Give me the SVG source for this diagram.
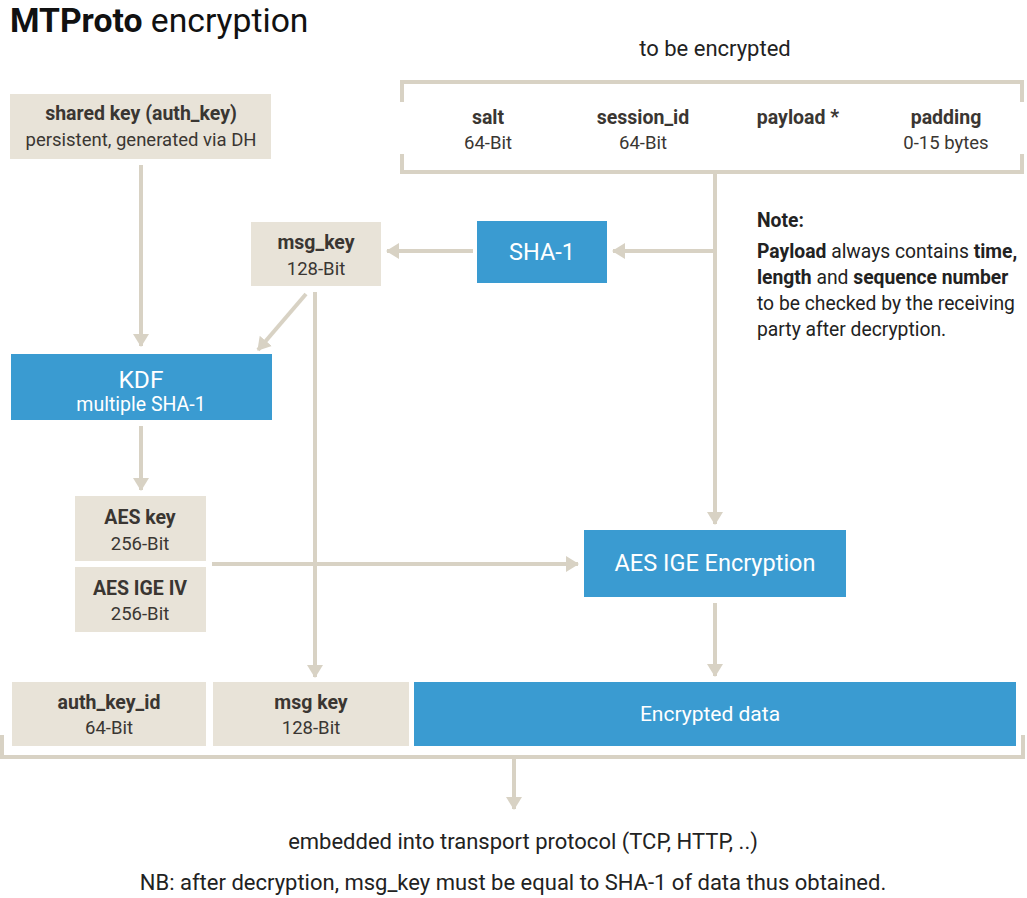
<svg xmlns="http://www.w3.org/2000/svg" width="1027" height="898" viewBox="0 0 1027 898">
<style>
  text { font-family: Roboto, "Liberation Sans", sans-serif; }
  .beige { fill: #e8e3d8; }
  .blue { fill: #3a9bd1; }
  .b { font-weight: bold; fill: #3a3632; font-size: 19.5px; }
  .r { fill: #3a3632; font-size: 18.5px; }
  .w { fill: #ffffff; font-size: 23.5px; }
  .conn { stroke: #d8d2c4; stroke-width: 4; fill: none; }
  .brk { stroke: #d8d2c4; stroke-width: 4; fill: none; }
  .t { fill: #222; font-size: 22px; }
  .n { fill: #222; font-size: 19.3px; }
</style>
<defs>
  <marker id="ah" markerUnits="userSpaceOnUse" markerWidth="18" markerHeight="18" refX="12" refY="9" orient="auto">
    <path d="M0,1 L13,9 L0,17 Z" fill="#d8d2c4"/>
  </marker>
</defs>
<rect width="1027" height="898" fill="#ffffff"/>

<text x="10" y="32" style="font-size:33.7px;fill:#111"><tspan font-weight="bold">MTProto</tspan> encryption</text>

<g id="to-be-encrypted">
  <text x="715" y="56" text-anchor="middle" class="t">to be encrypted</text>
  <path class="brk" d="M402,102 V82 H1022 V102 M402,154 V172 H1022 V154"/>
  <text x="488" y="124" text-anchor="middle" class="b">salt</text>
  <text x="488" y="149" text-anchor="middle" class="r">64-Bit</text>
  <text x="643" y="124" text-anchor="middle" class="b">session_id</text>
  <text x="643" y="149" text-anchor="middle" class="r">64-Bit</text>
  <text x="798" y="124" text-anchor="middle" class="b">payload *</text>
  <text x="946" y="124" text-anchor="middle" class="b">padding</text>
  <text x="946" y="149" text-anchor="middle" class="r">0-15 bytes</text>
</g>

<g id="shared-key">
  <rect class="beige" x="10" y="94" width="261" height="65"/>
  <text x="141" y="120" text-anchor="middle" class="b">shared key (auth_key)</text>
  <text x="141" y="146" text-anchor="middle" class="r">persistent, generated via DH</text>
</g>

<g id="msg-key">
  <rect class="beige" x="251" y="222" width="130" height="64"/>
  <text x="316" y="249" text-anchor="middle" class="b">msg_key</text>
  <text x="316" y="275" text-anchor="middle" class="r">128-Bit</text>
</g>

<g id="sha1">
  <rect class="blue" x="477" y="221" width="130" height="62"/>
  <text x="542" y="260" text-anchor="middle" class="w">SHA-1</text>
</g>

<g id="note">
  <text x="757" y="227" class="n" font-weight="bold">Note:</text>
  <text x="757" y="258" class="n"><tspan font-weight="bold">Payload</tspan> always contains <tspan font-weight="bold">time,</tspan></text>
  <text x="757" y="284" class="n"><tspan font-weight="bold">length</tspan> and <tspan font-weight="bold">sequence number</tspan></text>
  <text x="757" y="310" class="n">to be checked by the receiving</text>
  <text x="757" y="336" class="n">party after decryption.</text>
</g>

<g id="kdf">
  <rect class="blue" x="11" y="354" width="261" height="66"/>
  <text x="141" y="388" text-anchor="middle" style="fill:#fff;font-size:24.5px">KDF</text>
  <text x="141" y="411" text-anchor="middle" style="fill:#fff;font-size:19.5px">multiple SHA-1</text>
</g>

<g id="aes-key">
  <rect class="beige" x="75" y="496" width="131" height="65"/>
  <text x="140" y="524" text-anchor="middle" class="b">AES key</text>
  <text x="140" y="550" text-anchor="middle" class="r">256-Bit</text>
</g>

<g id="aes-iv">
  <rect class="beige" x="75" y="567" width="131" height="65"/>
  <text x="140" y="595" text-anchor="middle" class="b">AES IGE IV</text>
  <text x="140" y="620" text-anchor="middle" class="r">256-Bit</text>
</g>

<g id="aes-ige">
  <rect class="blue" x="584" y="530" width="262" height="67"/>
  <text x="715" y="571" text-anchor="middle" class="w">AES IGE Encryption</text>
</g>

<g id="auth-key-id">
  <rect class="beige" x="12" y="682" width="194" height="64"/>
  <text x="109" y="709" text-anchor="middle" class="b">auth_key_id</text>
  <text x="109" y="734" text-anchor="middle" class="r">64-Bit</text>
</g>

<g id="msg-key-out">
  <rect class="beige" x="213" y="682" width="196" height="64"/>
  <text x="311" y="709" text-anchor="middle" class="b">msg key</text>
  <text x="311" y="734" text-anchor="middle" class="r">128-Bit</text>
</g>

<g id="encrypted-data">
  <rect class="blue" x="414" y="682" width="602" height="64"/>
  <text x="710" y="721" text-anchor="middle" style="fill:#fff;font-size:21px">Encrypted data</text>
</g>

<g id="output-bracket">
  <path class="brk" d="M2,735 V757 H1023 V735"/>
</g>

<g id="footer">
  <text x="523" y="849" text-anchor="middle" class="t">embedded into transport protocol (TCP, HTTP, ..)</text>
  <text x="513" y="890" text-anchor="middle" class="t">NB: after decryption, msg_key must be equal to SHA-1 of data thus obtained.</text>
</g>

<g id="connectors">
  <line class="conn" x1="141" y1="165" x2="141" y2="346" marker-end="url(#ah)"/>
  <line class="conn" x1="306" y1="294" x2="258" y2="350" marker-end="url(#ah)"/>
  <line class="conn" x1="141" y1="426" x2="141" y2="490" marker-end="url(#ah)"/>
  <line class="conn" x1="212" y1="564" x2="578" y2="564" marker-end="url(#ah)"/>
  <line class="conn" x1="715" y1="172" x2="715" y2="524" marker-end="url(#ah)"/>
  <line class="conn" x1="715" y1="251" x2="613" y2="251" marker-end="url(#ah)"/>
  <line class="conn" x1="473" y1="251" x2="387" y2="251" marker-end="url(#ah)"/>
  <line class="conn" x1="315" y1="292" x2="315" y2="677" marker-end="url(#ah)"/>
  <line class="conn" x1="715" y1="603" x2="715" y2="676" marker-end="url(#ah)"/>
  <line class="conn" x1="514" y1="759" x2="514" y2="809" marker-end="url(#ah)"/>
</g>
</svg>
